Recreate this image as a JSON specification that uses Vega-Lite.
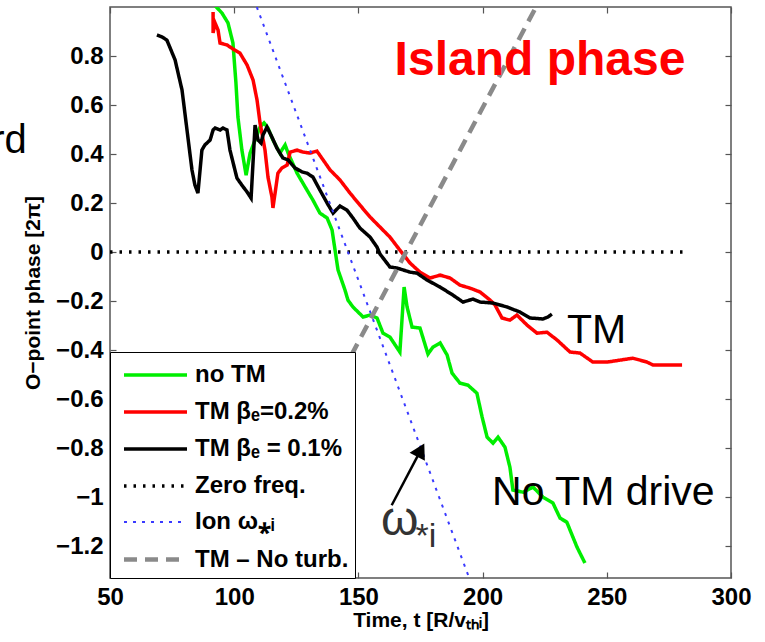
{
  "$schema": "https://vega.github.io/schema/vega-lite/v6.json",
  "autosize": {"type": "none"},
  "padding": {"left": 110, "top": 7, "right": 34, "bottom": 64},
  "width": 621,
  "height": 571,
  "background": "white",
  "config": {
    "view": {"stroke": "#555555", "strokeWidth": 1.5},
    "axis": {
      "grid": false,
      "domain": false,
      "labelFlush": false,
      "labelFont": "Liberation Sans",
      "labelFontWeight": "bold",
      "labelFontSize": 24,
      "labelColor": "black",
      "titleFont": "Liberation Sans",
      "titleFontWeight": "bold",
      "titleFontSize": 21,
      "titleColor": "black",
      "tickColor": "#555555",
      "tickSize": -6,
      "tickWidth": 1.2
    },
    "legend": {
      "orient": "bottom-left",
      "offset": 0,
      "fillColor": "white",
      "strokeColor": "black",
      "padding": 6,
      "rowPadding": 8,
      "symbolOffset": 22,
      "symbolType": "M-2.1,0H2.1",
      "symbolSize": 900,
      "labelFont": "Liberation Sans",
      "labelFontWeight": "bold",
      "labelFontSize": 24,
      "labelColor": "black",
      "labelOffset": 22,
      "labelLimit": 400
    }
  },
  "datasets": {
    "lines": [
      {"s": "no TM", "i": 1, "t": 91.0, "p": 1.02},
      {"s": "no TM", "i": 2, "t": 95.1, "p": 0.975},
      {"s": "no TM", "i": 3, "t": 97.5, "p": 0.935},
      {"s": "no TM", "i": 4, "t": 99.5, "p": 0.853},
      {"s": "no TM", "i": 5, "t": 100.7, "p": 0.69},
      {"s": "no TM", "i": 6, "t": 101.5, "p": 0.551},
      {"s": "no TM", "i": 7, "t": 103.1, "p": 0.416},
      {"s": "no TM", "i": 8, "t": 104.8, "p": 0.314},
      {"s": "no TM", "i": 9, "t": 106.4, "p": 0.404},
      {"s": "no TM", "i": 10, "t": 108.4, "p": 0.457},
      {"s": "no TM", "i": 11, "t": 110.4, "p": 0.51},
      {"s": "no TM", "i": 12, "t": 112.0, "p": 0.527},
      {"s": "no TM", "i": 13, "t": 113.6, "p": 0.506},
      {"s": "no TM", "i": 14, "t": 115.6, "p": 0.457},
      {"s": "no TM", "i": 15, "t": 118.4, "p": 0.404},
      {"s": "no TM", "i": 16, "t": 120.5, "p": 0.437},
      {"s": "no TM", "i": 17, "t": 121.7, "p": 0.404},
      {"s": "no TM", "i": 18, "t": 125.3, "p": 0.322},
      {"s": "no TM", "i": 19, "t": 129.3, "p": 0.253},
      {"s": "no TM", "i": 20, "t": 131.7, "p": 0.212},
      {"s": "no TM", "i": 21, "t": 134.5, "p": 0.159},
      {"s": "no TM", "i": 22, "t": 137.4, "p": 0.139},
      {"s": "no TM", "i": 23, "t": 139.4, "p": 0.09},
      {"s": "no TM", "i": 24, "t": 140.6, "p": 0.008},
      {"s": "no TM", "i": 25, "t": 141.8, "p": -0.073},
      {"s": "no TM", "i": 26, "t": 144.6, "p": -0.155},
      {"s": "no TM", "i": 27, "t": 145.8, "p": -0.196},
      {"s": "no TM", "i": 28, "t": 147.8, "p": -0.224},
      {"s": "no TM", "i": 29, "t": 151.9, "p": -0.265},
      {"s": "no TM", "i": 30, "t": 154.7, "p": -0.257},
      {"s": "no TM", "i": 31, "t": 157.5, "p": -0.269},
      {"s": "no TM", "i": 32, "t": 159.9, "p": -0.331},
      {"s": "no TM", "i": 33, "t": 162.7, "p": -0.347},
      {"s": "no TM", "i": 34, "t": 166.7, "p": -0.408},
      {"s": "no TM", "i": 35, "t": 168.4, "p": -0.143},
      {"s": "no TM", "i": 36, "t": 169.6, "p": -0.224},
      {"s": "no TM", "i": 37, "t": 171.6, "p": -0.306},
      {"s": "no TM", "i": 38, "t": 174.8, "p": -0.31},
      {"s": "no TM", "i": 39, "t": 178.0, "p": -0.416},
      {"s": "no TM", "i": 40, "t": 180.0, "p": -0.388},
      {"s": "no TM", "i": 41, "t": 182.9, "p": -0.371},
      {"s": "no TM", "i": 42, "t": 185.7, "p": -0.42},
      {"s": "no TM", "i": 43, "t": 187.7, "p": -0.494},
      {"s": "no TM", "i": 44, "t": 190.9, "p": -0.535},
      {"s": "no TM", "i": 45, "t": 194.1, "p": -0.543},
      {"s": "no TM", "i": 46, "t": 197.7, "p": -0.576},
      {"s": "no TM", "i": 47, "t": 199.8, "p": -0.673},
      {"s": "no TM", "i": 48, "t": 201.8, "p": -0.755},
      {"s": "no TM", "i": 49, "t": 204.2, "p": -0.78},
      {"s": "no TM", "i": 50, "t": 206.2, "p": -0.755},
      {"s": "no TM", "i": 51, "t": 209.0, "p": -0.796},
      {"s": "no TM", "i": 52, "t": 211.0, "p": -0.878},
      {"s": "no TM", "i": 53, "t": 212.2, "p": -0.971},
      {"s": "no TM", "i": 54, "t": 216.3, "p": -0.98},
      {"s": "no TM", "i": 55, "t": 220.3, "p": -0.959},
      {"s": "no TM", "i": 56, "t": 224.3, "p": -1.0},
      {"s": "no TM", "i": 57, "t": 228.3, "p": -1.024},
      {"s": "no TM", "i": 58, "t": 231.2, "p": -1.086},
      {"s": "no TM", "i": 59, "t": 233.9, "p": -1.102},
      {"s": "no TM", "i": 60, "t": 238.0, "p": -1.204},
      {"s": "no TM", "i": 61, "t": 241.2, "p": -1.269},

      {"s": "TM βₑ=0.2%", "i": 1, "t": 91.5, "p": 0.98},
      {"s": "TM βₑ=0.2%", "i": 2, "t": 91.5, "p": 0.894},
      {"s": "TM βₑ=0.2%", "i": 3, "t": 92.3, "p": 0.935},
      {"s": "TM βₑ=0.2%", "i": 4, "t": 93.5, "p": 0.906},
      {"s": "TM βₑ=0.2%", "i": 5, "t": 94.3, "p": 0.853},
      {"s": "TM βₑ=0.2%", "i": 6, "t": 97.1, "p": 0.845},
      {"s": "TM βₑ=0.2%", "i": 7, "t": 99.5, "p": 0.829},
      {"s": "TM βₑ=0.2%", "i": 8, "t": 102.3, "p": 0.812},
      {"s": "TM βₑ=0.2%", "i": 9, "t": 105.2, "p": 0.763},
      {"s": "TM βₑ=0.2%", "i": 10, "t": 107.6, "p": 0.702},
      {"s": "TM βₑ=0.2%", "i": 11, "t": 109.2, "p": 0.62},
      {"s": "TM βₑ=0.2%", "i": 12, "t": 110.4, "p": 0.527},
      {"s": "TM βₑ=0.2%", "i": 13, "t": 112.4, "p": 0.416},
      {"s": "TM βₑ=0.2%", "i": 14, "t": 113.6, "p": 0.306},
      {"s": "TM βₑ=0.2%", "i": 15, "t": 115.2, "p": 0.224},
      {"s": "TM βₑ=0.2%", "i": 16, "t": 115.6, "p": 0.18},
      {"s": "TM βₑ=0.2%", "i": 17, "t": 117.6, "p": 0.322},
      {"s": "TM βₑ=0.2%", "i": 18, "t": 119.2, "p": 0.343},
      {"s": "TM βₑ=0.2%", "i": 19, "t": 121.3, "p": 0.355},
      {"s": "TM βₑ=0.2%", "i": 20, "t": 122.5, "p": 0.408},
      {"s": "TM βₑ=0.2%", "i": 21, "t": 125.3, "p": 0.416},
      {"s": "TM βₑ=0.2%", "i": 22, "t": 127.7, "p": 0.408},
      {"s": "TM βₑ=0.2%", "i": 23, "t": 130.5, "p": 0.404},
      {"s": "TM βₑ=0.2%", "i": 24, "t": 133.3, "p": 0.412},
      {"s": "TM βₑ=0.2%", "i": 25, "t": 135.8, "p": 0.376},
      {"s": "TM βₑ=0.2%", "i": 26, "t": 138.6, "p": 0.335},
      {"s": "TM βₑ=0.2%", "i": 27, "t": 142.6, "p": 0.294},
      {"s": "TM βₑ=0.2%", "i": 28, "t": 146.6, "p": 0.241},
      {"s": "TM βₑ=0.2%", "i": 29, "t": 150.6, "p": 0.192},
      {"s": "TM βₑ=0.2%", "i": 30, "t": 154.7, "p": 0.143},
      {"s": "TM βₑ=0.2%", "i": 31, "t": 158.7, "p": 0.102},
      {"s": "TM βₑ=0.2%", "i": 32, "t": 162.7, "p": 0.061},
      {"s": "TM βₑ=0.2%", "i": 33, "t": 166.7, "p": 0.008},
      {"s": "TM βₑ=0.2%", "i": 34, "t": 170.8, "p": -0.045},
      {"s": "TM βₑ=0.2%", "i": 35, "t": 174.8, "p": -0.082},
      {"s": "TM βₑ=0.2%", "i": 36, "t": 178.8, "p": -0.106},
      {"s": "TM βₑ=0.2%", "i": 37, "t": 182.9, "p": -0.094},
      {"s": "TM βₑ=0.2%", "i": 38, "t": 186.9, "p": -0.106},
      {"s": "TM βₑ=0.2%", "i": 39, "t": 190.9, "p": -0.135},
      {"s": "TM βₑ=0.2%", "i": 40, "t": 194.9, "p": -0.147},
      {"s": "TM βₑ=0.2%", "i": 41, "t": 199.0, "p": -0.163},
      {"s": "TM βₑ=0.2%", "i": 42, "t": 203.0, "p": -0.196},
      {"s": "TM βₑ=0.2%", "i": 43, "t": 205.0, "p": -0.216},
      {"s": "TM βₑ=0.2%", "i": 44, "t": 207.8, "p": -0.269},
      {"s": "TM βₑ=0.2%", "i": 45, "t": 211.0, "p": -0.278},
      {"s": "TM βₑ=0.2%", "i": 46, "t": 213.8, "p": -0.257},
      {"s": "TM βₑ=0.2%", "i": 47, "t": 217.9, "p": -0.298},
      {"s": "TM βₑ=0.2%", "i": 48, "t": 221.9, "p": -0.331},
      {"s": "TM βₑ=0.2%", "i": 49, "t": 225.9, "p": -0.327},
      {"s": "TM βₑ=0.2%", "i": 50, "t": 230.0, "p": -0.359},
      {"s": "TM βₑ=0.2%", "i": 51, "t": 235.2, "p": -0.408},
      {"s": "TM βₑ=0.2%", "i": 52, "t": 239.2, "p": -0.412},
      {"s": "TM βₑ=0.2%", "i": 53, "t": 244.4, "p": -0.449},
      {"s": "TM βₑ=0.2%", "i": 54, "t": 250.1, "p": -0.449},
      {"s": "TM βₑ=0.2%", "i": 55, "t": 255.3, "p": -0.441},
      {"s": "TM βₑ=0.2%", "i": 56, "t": 260.5, "p": -0.433},
      {"s": "TM βₑ=0.2%", "i": 57, "t": 266.2, "p": -0.449},
      {"s": "TM βₑ=0.2%", "i": 58, "t": 268.6, "p": -0.461},
      {"s": "TM βₑ=0.2%", "i": 59, "t": 274.2, "p": -0.461},
      {"s": "TM βₑ=0.2%", "i": 60, "t": 280.3, "p": -0.461},

      {"s": "TM βₑ = 0.1%", "i": 1, "t": 68.9, "p": 0.886},
      {"s": "TM βₑ = 0.1%", "i": 2, "t": 70.9, "p": 0.878},
      {"s": "TM βₑ = 0.1%", "i": 3, "t": 72.9, "p": 0.865},
      {"s": "TM βₑ = 0.1%", "i": 4, "t": 76.2, "p": 0.784},
      {"s": "TM βₑ = 0.1%", "i": 5, "t": 79.0, "p": 0.661},
      {"s": "TM βₑ = 0.1%", "i": 6, "t": 81.0, "p": 0.498},
      {"s": "TM βₑ = 0.1%", "i": 7, "t": 83.0, "p": 0.335},
      {"s": "TM βₑ = 0.1%", "i": 8, "t": 84.2, "p": 0.273},
      {"s": "TM βₑ = 0.1%", "i": 9, "t": 85.4, "p": 0.241},
      {"s": "TM βₑ = 0.1%", "i": 10, "t": 87.0, "p": 0.416},
      {"s": "TM βₑ = 0.1%", "i": 11, "t": 88.2, "p": 0.437},
      {"s": "TM βₑ = 0.1%", "i": 12, "t": 90.3, "p": 0.457},
      {"s": "TM βₑ = 0.1%", "i": 13, "t": 91.5, "p": 0.498},
      {"s": "TM βₑ = 0.1%", "i": 14, "t": 92.3, "p": 0.506},
      {"s": "TM βₑ = 0.1%", "i": 15, "t": 94.3, "p": 0.498},
      {"s": "TM βₑ = 0.1%", "i": 16, "t": 95.5, "p": 0.506},
      {"s": "TM βₑ = 0.1%", "i": 17, "t": 97.1, "p": 0.498},
      {"s": "TM βₑ = 0.1%", "i": 18, "t": 98.3, "p": 0.416},
      {"s": "TM βₑ = 0.1%", "i": 19, "t": 101.1, "p": 0.302},
      {"s": "TM βₑ = 0.1%", "i": 20, "t": 103.1, "p": 0.273},
      {"s": "TM βₑ = 0.1%", "i": 21, "t": 105.2, "p": 0.245},
      {"s": "TM βₑ = 0.1%", "i": 22, "t": 106.8, "p": 0.22},
      {"s": "TM βₑ = 0.1%", "i": 23, "t": 108.4, "p": 0.518},
      {"s": "TM βₑ = 0.1%", "i": 24, "t": 109.6, "p": 0.457},
      {"s": "TM βₑ = 0.1%", "i": 25, "t": 110.8, "p": 0.445},
      {"s": "TM βₑ = 0.1%", "i": 26, "t": 111.6, "p": 0.478},
      {"s": "TM βₑ = 0.1%", "i": 27, "t": 113.2, "p": 0.51},
      {"s": "TM βₑ = 0.1%", "i": 28, "t": 115.2, "p": 0.469},
      {"s": "TM βₑ = 0.1%", "i": 29, "t": 117.2, "p": 0.424},
      {"s": "TM βₑ = 0.1%", "i": 30, "t": 119.6, "p": 0.384},
      {"s": "TM βₑ = 0.1%", "i": 31, "t": 121.7, "p": 0.376},
      {"s": "TM βₑ = 0.1%", "i": 32, "t": 124.5, "p": 0.343},
      {"s": "TM βₑ = 0.1%", "i": 33, "t": 127.3, "p": 0.327},
      {"s": "TM βₑ = 0.1%", "i": 34, "t": 129.3, "p": 0.322},
      {"s": "TM βₑ = 0.1%", "i": 35, "t": 131.7, "p": 0.306},
      {"s": "TM βₑ = 0.1%", "i": 36, "t": 134.5, "p": 0.253},
      {"s": "TM βₑ = 0.1%", "i": 37, "t": 137.4, "p": 0.2},
      {"s": "TM βₑ = 0.1%", "i": 38, "t": 139.8, "p": 0.159},
      {"s": "TM βₑ = 0.1%", "i": 39, "t": 142.6, "p": 0.188},
      {"s": "TM βₑ = 0.1%", "i": 40, "t": 145.4, "p": 0.171},
      {"s": "TM βₑ = 0.1%", "i": 41, "t": 147.8, "p": 0.139},
      {"s": "TM βₑ = 0.1%", "i": 42, "t": 150.6, "p": 0.098},
      {"s": "TM βₑ = 0.1%", "i": 43, "t": 154.7, "p": 0.061},
      {"s": "TM βₑ = 0.1%", "i": 44, "t": 157.5, "p": 0.02},
      {"s": "TM βₑ = 0.1%", "i": 45, "t": 158.7, "p": -0.008},
      {"s": "TM βₑ = 0.1%", "i": 46, "t": 162.7, "p": -0.061},
      {"s": "TM βₑ = 0.1%", "i": 47, "t": 165.5, "p": -0.065},
      {"s": "TM βₑ = 0.1%", "i": 48, "t": 170.8, "p": -0.082},
      {"s": "TM βₑ = 0.1%", "i": 49, "t": 173.6, "p": -0.086},
      {"s": "TM βₑ = 0.1%", "i": 50, "t": 177.6, "p": -0.114},
      {"s": "TM βₑ = 0.1%", "i": 51, "t": 182.9, "p": -0.143},
      {"s": "TM βₑ = 0.1%", "i": 52, "t": 188.1, "p": -0.176},
      {"s": "TM βₑ = 0.1%", "i": 53, "t": 192.1, "p": -0.204},
      {"s": "TM βₑ = 0.1%", "i": 54, "t": 196.1, "p": -0.192},
      {"s": "TM βₑ = 0.1%", "i": 55, "t": 199.0, "p": -0.204},
      {"s": "TM βₑ = 0.1%", "i": 56, "t": 204.2, "p": -0.208},
      {"s": "TM βₑ = 0.1%", "i": 57, "t": 209.8, "p": -0.224},
      {"s": "TM βₑ = 0.1%", "i": 58, "t": 215.1, "p": -0.245},
      {"s": "TM βₑ = 0.1%", "i": 59, "t": 219.1, "p": -0.269},
      {"s": "TM βₑ = 0.1%", "i": 60, "t": 224.3, "p": -0.273},
      {"s": "TM βₑ = 0.1%", "i": 61, "t": 226.3, "p": -0.265},
      {"s": "TM βₑ = 0.1%", "i": 62, "t": 227.9, "p": -0.253},

      {"s": "Zero freq.", "i": 1, "t": 50, "p": 0},
      {"s": "Zero freq.", "i": 2, "t": 281.5, "p": 0},

      {"s": "Ion ω⁎ᵢ", "i": 1, "t": 109.1, "p": 1.0},
      {"s": "Ion ω⁎ᵢ", "i": 2, "t": 194.6, "p": -1.33},

      {"s": "TM – No turb.", "i": 1, "t": 99.6, "p": -1.33},
      {"s": "TM – No turb.", "i": 2, "t": 221.5, "p": 1.0}
    ]
  },
  "layer": [
    {
      "data": {"name": "lines"},
      "mark": {"type": "line", "clip": true, "strokeCap": "butt"},
      "encoding": {
        "x": {
          "field": "t", "type": "quantitative",
          "scale": {"domain": [50, 300], "nice": false, "zero": false},
          "axis": {"values": [50, 100, 150, 200, 250, 300], "labelPadding": 13, "title": "Time, t [R/vₜₕᵢ]", "titlePadding": 0}
        },
        "y": {
          "field": "p", "type": "quantitative",
          "scale": {"domain": [-1.33, 1.0], "nice": false, "zero": false},
          "axis": {"values": [-1.2, -1, -0.8, -0.6, -0.4, -0.2, 0, 0.2, 0.4, 0.6, 0.8], "format": "~g", "labelPadding": 13, "title": "O−point phase [2π]", "titlePadding": 12}
        },
        "color": {
          "field": "s", "type": "nominal",
          "scale": {
            "domain": ["no TM", "TM βₑ=0.2%", "TM βₑ = 0.1%", "Zero freq.", "Ion ω⁎ᵢ", "TM – No turb."],
            "range": ["#00ee00", "#ff0000", "#000000", "#000000", "#3a3aff", "#8a8a8a"]
          },
          "legend": {"title": null}
        },
        "strokeDash": {
          "field": "s", "type": "nominal",
          "scale": {
            "domain": ["no TM", "TM βₑ=0.2%", "TM βₑ = 0.1%", "Zero freq.", "Ion ω⁎ᵢ", "TM – No turb."],
            "range": [[1, 0], [1, 0], [1, 0], [2.5, 7], [3, 6], [13, 8]]
          },
          "legend": {"title": null}
        },
        "strokeWidth": {
          "field": "s", "type": "nominal",
          "scale": {
            "type": "ordinal",
            "domain": ["no TM", "TM βₑ=0.2%", "TM βₑ = 0.1%", "Zero freq.", "Ion ω⁎ᵢ", "TM – No turb."],
            "range": [3.5, 3.5, 3.5, 3.5, 2, 4.5]
          },
          "legend": {"title": null}
        },
        "order": {"field": "i", "type": "quantitative"}
      }
    },
    {
      "data": {"values": [{"t": 223.1, "p": 0.722, "txt": "Island phase"}]},
      "mark": {"type": "text", "font": "Liberation Sans", "fontWeight": "bold", "fontSize": 48, "color": "#ff0000", "align": "center", "baseline": "alphabetic"},
      "encoding": {
        "x": {"field": "t", "type": "quantitative", "axis": null},
        "y": {"field": "p", "type": "quantitative", "axis": null},
        "text": {"field": "txt"}
      }
    },
    {
      "data": {"values": [
        {"t": 234.0, "p": -0.371, "txt": "TM"},
        {"t": 203.8, "p": -1.033, "txt": "No TM drive"}
      ]},
      "mark": {"type": "text", "font": "Liberation Sans", "fontSize": 41, "color": "#000000", "align": "left", "baseline": "alphabetic"},
      "encoding": {
        "x": {"field": "t", "type": "quantitative", "axis": null},
        "y": {"field": "p", "type": "quantitative", "axis": null},
        "text": {"field": "txt"}
      }
    },
    {
      "data": {"values": [{"t": 16.5, "p": 0.404, "txt": "rd"}]},
      "mark": {"type": "text", "font": "Liberation Sans", "fontSize": 40, "color": "#000000", "align": "right", "baseline": "alphabetic"},
      "encoding": {
        "x": {"field": "t", "type": "quantitative", "axis": null},
        "y": {"field": "p", "type": "quantitative", "axis": null},
        "text": {"field": "txt"}
      }
    },
    {
      "data": {"values": [{"t": 159.1, "p": -1.155, "txt": "ω"}]},
      "mark": {"type": "text", "font": "Liberation Sans", "fontSize": 48, "color": "#333333", "align": "left", "baseline": "alphabetic"},
      "encoding": {
        "x": {"field": "t", "type": "quantitative", "axis": null},
        "y": {"field": "p", "type": "quantitative", "axis": null},
        "text": {"field": "txt"}
      }
    },
    {
      "data": {"values": [{"t": 173.0, "p": -1.204, "txt": "*i"}]},
      "mark": {"type": "text", "font": "Liberation Sans", "fontSize": 34, "color": "#333333", "align": "left", "baseline": "alphabetic"},
      "encoding": {
        "x": {"field": "t", "type": "quantitative", "axis": null},
        "y": {"field": "p", "type": "quantitative", "axis": null},
        "text": {"field": "txt"}
      }
    },
    {
      "data": {"values": [{"t": 163.4, "p": -1.033, "t2": 175.1, "p2": -0.808}]},
      "mark": {"type": "rule", "color": "black", "strokeWidth": 2.5},
      "encoding": {
        "x": {"field": "t", "type": "quantitative", "axis": {"orient": "top", "values": [50, 100, 150, 200, 250, 300], "labels": false, "title": null}},
        "y": {"field": "p", "type": "quantitative", "axis": {"orient": "right", "values": [-1.2, -1, -0.8, -0.6, -0.4, -0.2, 0, 0.2, 0.4, 0.6, 0.8], "labels": false, "title": null}},
        "x2": {"field": "t2"},
        "y2": {"field": "p2"}
      }
    },
    {
      "data": {"values": [{"t": 175.1, "p": -0.808}]},
      "mark": {"type": "point", "shape": "triangle-up", "filled": true, "color": "black", "size": 300, "angle": 28, "opacity": 1},
      "encoding": {
        "x": {"field": "t", "type": "quantitative", "axis": null},
        "y": {"field": "p", "type": "quantitative", "axis": null}
      }
    }
  ],
  "resolve": {"axis": {"x": "independent", "y": "independent"}}
}
